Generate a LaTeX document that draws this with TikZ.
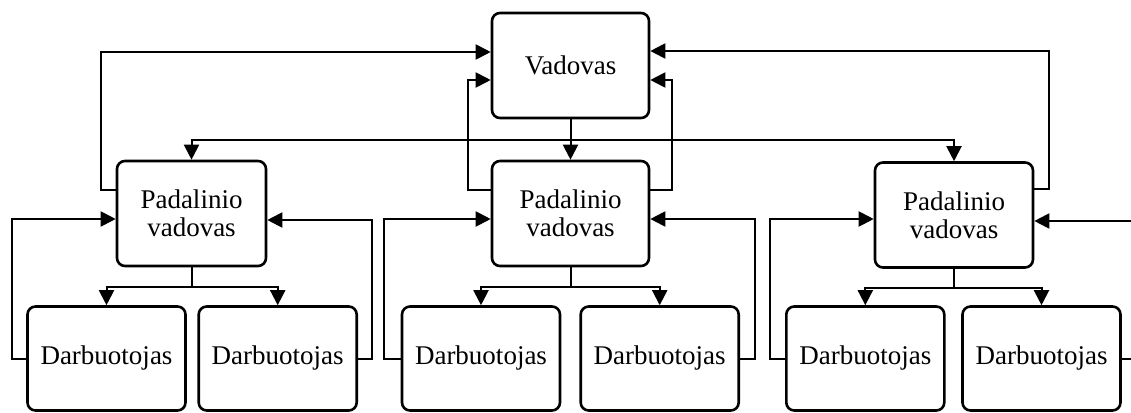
\documentclass[tikz,border=0pt]{standalone}
\usepackage{fontspec}
\setmainfont{Liberation Serif}
\usetikzlibrary{arrows.meta}
\tikzset{
  unit/.style={draw, line width=2.6pt, rounded corners=8pt, inner sep=0pt,
    align=center, font=\fontsize{27}{28}\selectfont},
  boss/.style={unit, minimum width=157pt, minimum height=105pt},
  head/.style={unit, minimum width=152pt, minimum height=105pt},
  worker/.style={unit, minimum width=158pt, minimum height=104pt},
  link/.style={line width=2pt},
  arr/.style={link, -{Triangle[length=15pt,width=15pt]}},
  twoarr/.style={link, {Triangle[length=15pt,width=15pt]}-{Triangle[length=15pt,width=15pt]}}
}
\begin{document}
\begin{tikzpicture}[x=1pt,y=-1pt]
\clip (0,0) rectangle (1131,412);

% top manager
\node[boss] (V) at (570.5,65.5) {Vadovas};

% department heads
\node[head, minimum width=149pt] (P1) at (191.5,213.5) {Padalinio\\vadovas};
\node[head, minimum width=157pt] (P2) at (570.5,213.5) {Padalinio\\vadovas};
\node[head, minimum width=158pt] (P3) at (954,215) {Padalinio\\vadovas};

% employees
\node[worker] (D1) at (106.5,358.5) {Darbuotojas};
\node[worker] (D2) at (277.7,358.5) {Darbuotojas};
\node[worker] (D3) at (481,358.5) {Darbuotojas};
\node[worker] (D4) at (659.7,358.5) {Darbuotojas};
\node[worker] (D5) at (865.3,358.5) {Darbuotojas};
\node[worker] (D6) at (1041.5,358.5) {Darbuotojas};

% manager down to the heads
\draw[arr] (V.south) -- (P2.north);
\draw[twoarr] (P1.north) -- (P1.north |- 0,140) -- (P3.north |- 0,140) -- (P3.north);

% heads report back up to the manager
\draw[arr] (P1.west |- 0,190) -| (101,52) -- (V.west |- 0,52);
\draw[arr] (P2.west |- 0,190) -| (468,80) -- (V.west |- 0,80);
\draw[arr] (P2.east |- 0,190) -| (672,80) -- (V.east |- 0,80);
\draw[arr] (P3.east |- 0,189) -| (1049,51) -- (V.east |- 0,51);

% heads down to their employees
\draw[link] (P1.south) -- (P1.south |- 0,287);
\draw[twoarr] (D1.north) -- (D1.north |- 0,287) -- (D2.north |- 0,287) -- (D2.north);
\draw[link] (P2.south) -- (P2.south |- 0,287);
\draw[twoarr] (D3.north) -- (D3.north |- 0,287) -- (D4.north |- 0,287) -- (D4.north);
\draw[link] (P3.south) -- (P3.south |- 0,288);
\draw[twoarr] (D5.north) -- (D5.north |- 0,288) -- (D6.north |- 0,288) -- (D6.north);

% employees report back to their heads
\draw[arr] (D1.west) -| (12,219) -- (P1.west |- 0,219);
\draw[arr] (D2.east) -| (372,220) -- (P1.east |- 0,220);
\draw[arr] (D3.west) -| (384,219) -- (P2.west |- 0,219);
\draw[arr] (D4.east) -| (755,219) -- (P2.east |- 0,219);
\draw[arr] (D5.west) -| (770,219) -- (P3.west |- 0,219);
\draw[arr] (D6.east) -| (1140,221) -- (P3.east |- 0,221);
\end{tikzpicture}
\end{document}
